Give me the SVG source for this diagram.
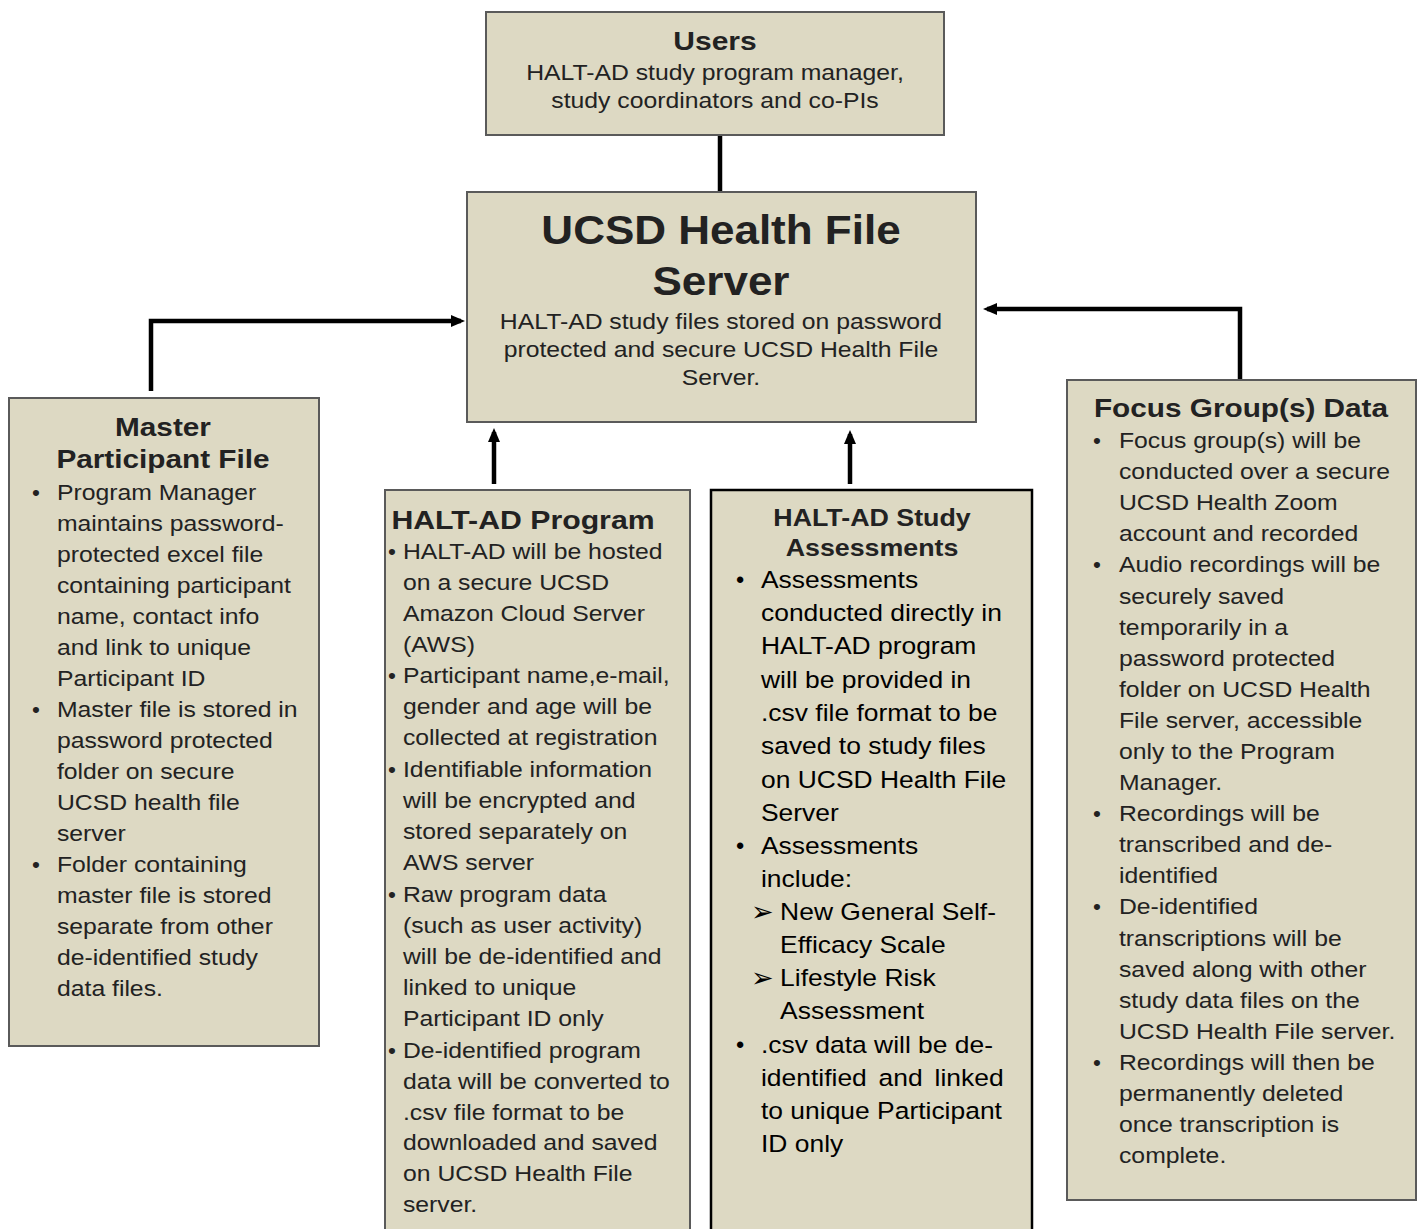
<svg xmlns="http://www.w3.org/2000/svg" width="1421" height="1229" viewBox="0 0 1421 1229">
<style>
.box{fill:#ddd9c3;stroke:#5a5a5a;stroke-width:2}
.boxk{fill:#ddd9c3;stroke:#000;stroke-width:2.5}
.t{font-family:"Liberation Sans",Arial,sans-serif;fill:#222}
.h{font-weight:bold}
.c{text-anchor:middle}
.b{font-size:22.5px}
.a{font-size:23.5px;fill:#000}
.ar{font-family:"DejaVu Sans",sans-serif;font-size:27px;fill:#000}
.ln{stroke:#000;stroke-width:4.5;fill:none}
</style>
<defs>
<marker id="ah2" markerWidth="14" markerHeight="14" refX="10" refY="7" orient="auto" markerUnits="userSpaceOnUse" viewBox="0 0 14 14">
<path d="M0,1 L14,7 L0,13 z" fill="#000"/>
</marker>
</defs>
<rect width="1421" height="1229" fill="#fff"/>
<g id="connectors">
<line class="ln" x1="720" y1="136" x2="720" y2="192"/>
<polyline class="ln" points="151,391 151,321 461,321" marker-end="url(#ah2)"/>
<polyline class="ln" points="1240,380 1240,309 987,309" marker-end="url(#ah2)"/>
<line class="ln" x1="494" y1="484" x2="494" y2="432" marker-end="url(#ah2)"/>
<line class="ln" x1="850" y1="484" x2="850" y2="434" marker-end="url(#ah2)"/>
</g>
<g id="users">
<rect class="box" x="486" y="12" width="458" height="123"/>
<text class="t h c" x="715" y="50" font-size="25" transform="matrix(1.2,0,0,1,-143,0)">Users</text>
<g transform="matrix(1.1,0,0,1,-71.5,0)">
<text class="t c" x="715" y="80" font-size="22.5">HALT-AD study program manager,</text>
<text class="t c" x="715" y="108" font-size="22.5">study coordinators and co-PIs</text>
</g>
</g>
<g id="server">
<rect class="box" x="467" y="192" width="509" height="230"/>
<g transform="matrix(1.1,0,0,1,-72.1,0)">
<text class="t h c" x="721" y="244" font-size="40">UCSD Health File</text>
<text class="t h c" x="721" y="295" font-size="40">Server</text>
<text class="t c" x="721" y="329" font-size="22.5">HALT-AD study files stored on password</text>
<text class="t c" x="721" y="357" font-size="22.5">protected and secure UCSD Health File</text>
<text class="t c" x="721" y="385" font-size="22.5">Server.</text>
</g>
</g>
<g id="master">
<rect class="box" x="9" y="398" width="310" height="648"/>
<g transform="matrix(1.19,0,0,1,-30.97,0)">
<text class="t h c" x="163" y="436" font-size="25">Master</text>
<text class="t h c" x="163" y="468" font-size="25">Participant File</text>
</g>
<g class="t b">
<text x="32" y="500">•</text>
<text x="32" y="717">•</text>
<text x="32" y="872">•</text>
</g>
<g class="t b" transform="matrix(1.1,0,0,1,-5.7,0)">
<text x="57" y="500">Program Manager</text>
<text x="57" y="531">maintains password-</text>
<text x="57" y="562">protected excel file</text>
<text x="57" y="593">containing participant</text>
<text x="57" y="624">name, contact info</text>
<text x="57" y="655">and link to unique</text>
<text x="57" y="686">Participant ID</text>
<text x="57" y="717">Master file is stored in</text>
<text x="57" y="748">password protected</text>
<text x="57" y="779">folder on secure</text>
<text x="57" y="810">UCSD health file</text>
<text x="57" y="841">server</text>
<text x="57" y="872">Folder containing</text>
<text x="57" y="903">master file is stored</text>
<text x="57" y="934">separate from other</text>
<text x="57" y="965">de-identified study</text>
<text x="57" y="996">data files.</text>
</g>
</g>
<g id="program">
<rect class="box" x="385" y="490" width="305" height="760"/>
<text class="t h c" x="523" y="529" font-size="25" transform="matrix(1.21,0,0,1,-109.83,0)">HALT-AD Program</text>
<g class="t b">
<text x="388" y="559">•</text>
<text x="388" y="683">•</text>
<text x="388" y="777">•</text>
<text x="388" y="902">•</text>
<text x="388" y="1058">•</text>
</g>
<g class="t b" transform="matrix(1.1,0,0,1,-40.3,0)">
<text x="403" y="559">HALT-AD will be hosted</text>
<text x="403" y="590">on a secure UCSD</text>
<text x="403" y="621">Amazon Cloud Server</text>
<text x="403" y="652">(AWS)</text>
<text x="403" y="683">Participant name,e-mail,</text>
<text x="403" y="714">gender and age will be</text>
<text x="403" y="745">collected at registration</text>
<text x="403" y="777">Identifiable information</text>
<text x="403" y="808">will be encrypted and</text>
<text x="403" y="839">stored separately on</text>
<text x="403" y="870">AWS server</text>
<text x="403" y="902">Raw program data</text>
<text x="403" y="933">(such as user activity)</text>
<text x="403" y="964">will be de-identified and</text>
<text x="403" y="995">linked to unique</text>
<text x="403" y="1026">Participant ID only</text>
<text x="403" y="1058">De-identified program</text>
<text x="403" y="1089">data will be converted to</text>
<text x="403" y="1120">.csv file format to be</text>
<text x="403" y="1150">downloaded and saved</text>
<text x="403" y="1181">on UCSD Health File</text>
<text x="403" y="1212">server.</text>
</g>
</g>
<g id="assessments">
<rect class="boxk" x="711" y="490" width="321" height="760"/>
<g transform="matrix(1.165,0,0,1,-143.88,0)">
<text class="t h c" x="872" y="526" font-size="23" fill="#000">HALT-AD Study</text>
<text class="t h c" x="872" y="556" font-size="23" fill="#000">Assessments</text>
</g>
<g class="t a">
<text x="736" y="588">•</text>
<text x="736" y="854">•</text>
<text x="736" y="1053">•</text>
</g>
<text class="ar" x="751" y="921">➢</text>
<text class="ar" x="751" y="987">➢</text>
<g class="t a" transform="matrix(1.125,0,0,1,-95.125,0)">
<text x="761" y="588">Assessments</text>
<text x="761" y="621">conducted directly in</text>
<text x="761" y="654">HALT-AD program</text>
<text x="761" y="688">will be provided in</text>
<text x="761" y="721">.csv file format to be</text>
<text x="761" y="754">saved to study files</text>
<text x="761" y="788">on UCSD Health File</text>
<text x="761" y="821">Server</text>
<text x="761" y="854">Assessments</text>
<text x="761" y="887">include:</text>
<text x="778" y="920">New General Self-</text>
<text x="778" y="953">Efficacy Scale</text>
<text x="778" y="986">Lifestyle Risk</text>
<text x="778" y="1019">Assessment</text>
<text x="761" y="1053">.csv data will be de-</text>
<text x="761" y="1086" word-spacing="4">identified and linked</text>
<text x="761" y="1119">to unique Participant</text>
<text x="761" y="1152">ID only</text>
</g>
</g>
<g id="focus">
<rect class="box" x="1067" y="380" width="349" height="820"/>
<text class="t h c" x="1241" y="417" font-size="25" transform="matrix(1.19,0,0,1,-235.79,0)">Focus Group(s) Data</text>
<g class="t b">
<text x="1093" y="448">•</text>
<text x="1093" y="572">•</text>
<text x="1093" y="821">•</text>
<text x="1093" y="914">•</text>
<text x="1093" y="1070">•</text>
</g>
<g class="t b" transform="matrix(1.1,0,0,1,-111.9,0)">
<text x="1119" y="448">Focus group(s) will be</text>
<text x="1119" y="479">conducted over a secure</text>
<text x="1119" y="510">UCSD Health Zoom</text>
<text x="1119" y="541">account and recorded</text>
<text x="1119" y="572">Audio recordings will be</text>
<text x="1119" y="604">securely saved</text>
<text x="1119" y="635">temporarily in a</text>
<text x="1119" y="666">password protected</text>
<text x="1119" y="697">folder on UCSD Health</text>
<text x="1119" y="728">File server, accessible</text>
<text x="1119" y="759">only to the Program</text>
<text x="1119" y="790">Manager.</text>
<text x="1119" y="821">Recordings will be</text>
<text x="1119" y="852">transcribed and de-</text>
<text x="1119" y="883">identified</text>
<text x="1119" y="914">De-identified</text>
<text x="1119" y="946">transcriptions will be</text>
<text x="1119" y="977">saved along with other</text>
<text x="1119" y="1008">study data files on the</text>
<text x="1119" y="1039">UCSD Health File server.</text>
<text x="1119" y="1070">Recordings will then be</text>
<text x="1119" y="1101">permanently deleted</text>
<text x="1119" y="1132">once transcription is</text>
<text x="1119" y="1163">complete.</text>
</g>
</g>
</svg>
